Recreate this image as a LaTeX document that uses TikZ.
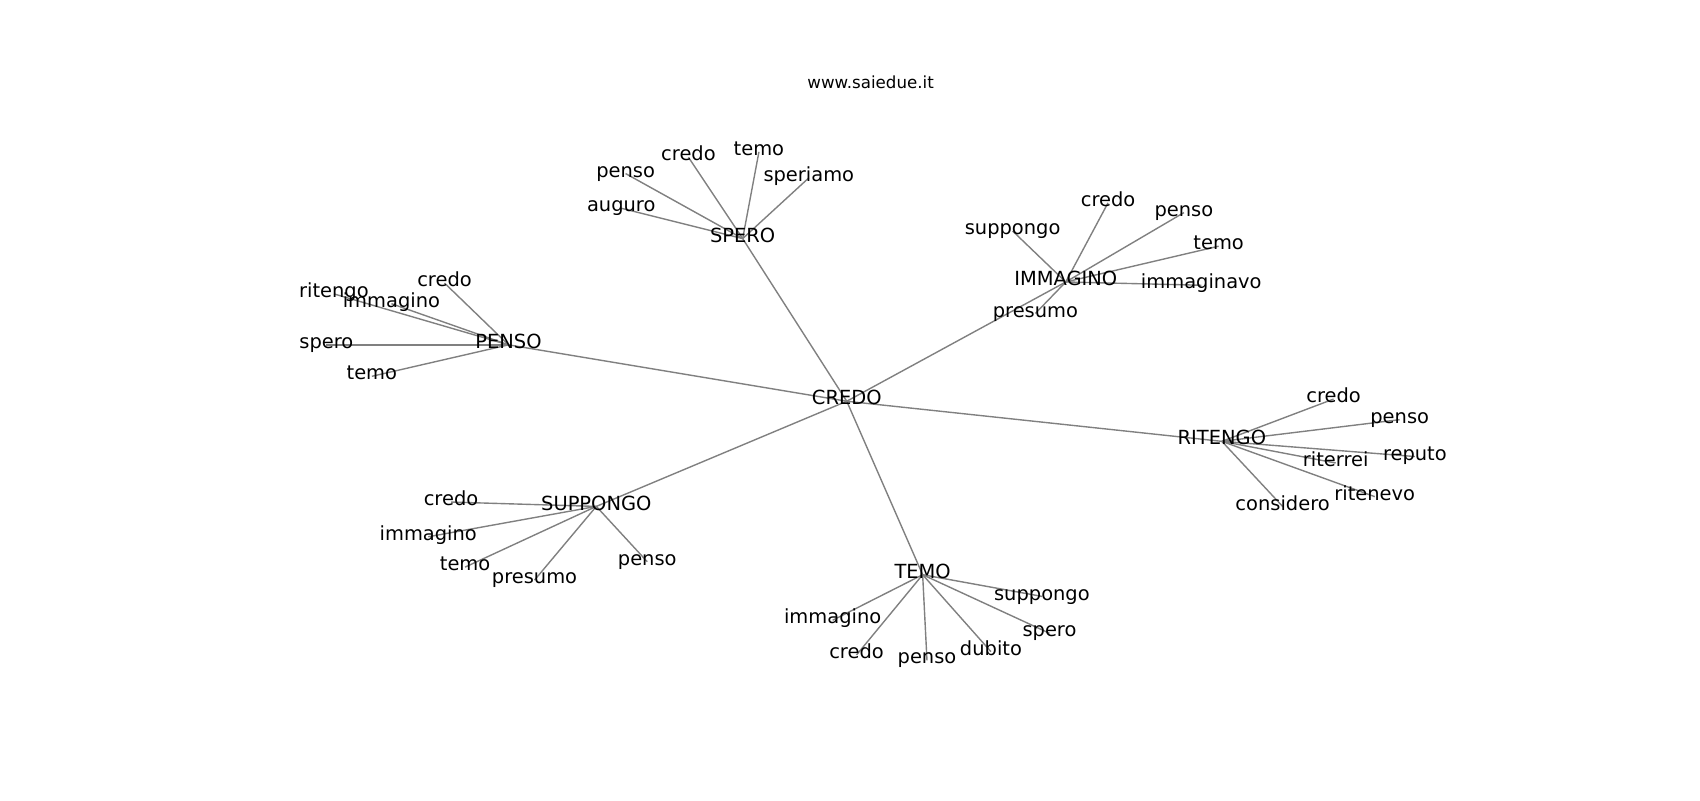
\documentclass[tikz,border=0pt]{standalone}
\usepackage{fontspec}
\setmainfont{DejaVu Sans}
\usetikzlibrary{backgrounds}
\tikzset{
  word/.style={inner sep=0pt, text height=0.76em, text depth=0.24em,
               font=\fontsize{14}{16}\selectfont},
  edge/.style={draw=gray, line width=1pt},
}

\begin{document}
\begin{tikzpicture}[x=0.7806pt, y=-0.7806pt]
\useasboundingbox (0,0) rectangle (1568,738);
\node[font=\fontsize{12}{14}\selectfont] (title) at (803,76) {www.saiedue.it};
\begin{scope}[yshift=-2.4pt]
% centre and hubs
\node[word] (credo)    at (781,367)  {CREDO};
\node[word] (spero)    at (685,217)  {SPERO};
\node[word] (penso)    at (469,315)  {PENSO};
\node[word] (immagino) at (983,257)  {IMMAGINO};
\node[word] (ritengo)  at (1127,404) {RITENGO};
\node[word] (suppongo) at (550,464)  {SUPPONGO};
\node[word] (temo)     at (851,527)  {TEMO};
% leaves
\foreach \hub/\n/\x/\y/\t in {
  spero/sp-auguro/573/189/auguro, spero/sp-penso/577/157/penso,
  spero/sp-credo/635/142/credo, spero/sp-temo/700/137/temo,
  spero/sp-speriamo/746/161/speriamo,
  penso/pe-ritengo/308/268/ritengo, penso/pe-immagino/361/277/immagino,
  penso/pe-credo/410/258/credo, penso/pe-spero/301/315/spero,
  penso/pe-temo/343/344/temo,
  immagino/im-suppongo/934/210/suppongo, immagino/im-credo/1022/184/credo,
  immagino/im-penso/1092/193/penso, immagino/im-temo/1124/224/temo,
  immagino/im-immaginavo/1108/260/immaginavo, immagino/im-presumo/955/286/presumo,
  ritengo/ri-credo/1230/365/credo, ritengo/ri-penso/1291/384/penso,
  ritengo/ri-reputo/1305/418/reputo, ritengo/ri-riterrei/1232/424/riterrei,
  ritengo/ri-ritenevo/1268/455/ritenevo, ritengo/ri-considero/1183/464/considero,
  suppongo/su-credo/416/460/credo, suppongo/su-immagino/395/492/immagino,
  suppongo/su-temo/429/520/temo, suppongo/su-presumo/493/532/presumo,
  suppongo/su-penso/597/515/penso,
  temo/te-immagino/768/569/immagino, temo/te-credo/790/601/credo,
  temo/te-penso/855/606/penso, temo/te-dubito/914/598/dubito,
  temo/te-spero/968/581/spero, temo/te-suppongo/961/547/suppongo}
  \node[word] (\n) at (\x,\y) {\t};
\end{scope}
% connectors under the words
\begin{scope}[on background layer]
\fill[white] (0,0) rectangle (1568,738);
\foreach \hub in {spero,penso,immagino,ritengo,suppongo,temo}
  \draw[edge] (credo.center) -- (\hub.center);
\foreach \hub/\n in {
  spero/sp-auguro, spero/sp-penso, spero/sp-credo, spero/sp-temo, spero/sp-speriamo,
  penso/pe-ritengo, penso/pe-immagino, penso/pe-credo, penso/pe-spero, penso/pe-temo,
  immagino/im-suppongo, immagino/im-credo, immagino/im-penso, immagino/im-temo,
  immagino/im-immaginavo, immagino/im-presumo,
  ritengo/ri-credo, ritengo/ri-penso, ritengo/ri-reputo, ritengo/ri-riterrei,
  ritengo/ri-ritenevo, ritengo/ri-considero,
  suppongo/su-credo, suppongo/su-immagino, suppongo/su-temo, suppongo/su-presumo,
  suppongo/su-penso,
  temo/te-immagino, temo/te-credo, temo/te-penso, temo/te-dubito, temo/te-spero,
  temo/te-suppongo}
  \draw[edge] (\hub.center) -- (\n.center);
\end{scope}
\end{tikzpicture}
\end{document}
